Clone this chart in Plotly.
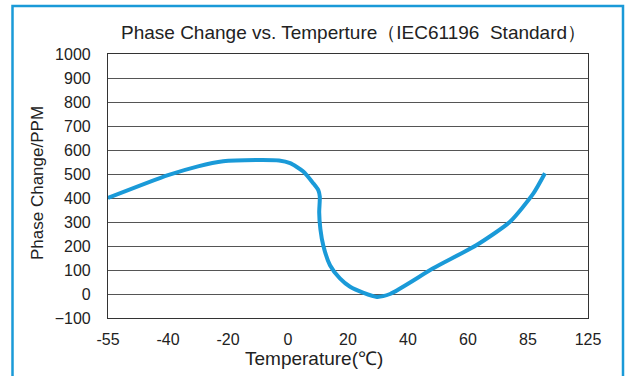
import numpy as np
import plotly.graph_objects as go

tick_labels = ["-55", "-40", "-20", "0", "20", "40", "60", "85", "125"]
tick_temps = [-55, -40, -20, 0, 20, 40, 60, 85, 125]

temps = [-55, -40, -30, -21.6, -10, -3, 0.7, 5.1, 8.5, 10.1, 10.6, 10.4, 10.8, 11.8, 14, 17.3, 20.7, 25, 29.6, 34, 48.4, 63.6, 77.5, 88.6, 96.3]
phase = [400, 495, 532, 553, 558, 556, 545, 510, 460, 433, 405, 340, 270, 200, 120, 65, 30, 6, -12, 0, 107, 204, 301, 419, 503]

# map temperatures onto the evenly spaced category axis
xpos = np.interp(temps, tick_temps, list(range(len(tick_temps))))

FONT = "Liberation Sans Narrow, Liberation Sans, Arial, sans-serif"
BLUE = "#1a9ad8"

fig = go.Figure()
fig.add_trace(go.Scatter(
    x=xpos, y=phase, mode="lines",
    line=dict(color=BLUE, width=4, shape="spline", smoothing=0.6),
    hoverinfo="skip", showlegend=False,
))

L, R, T, B = 108, 631 - 588, 54, 376 - 318
W, H = 631 - L - R, 376 - T - B

def px_x(p):
    return (p - L) / W

def px_y(p):
    return (376 - B - p) / H

fig.update_layout(
    width=631, height=376,
    margin=dict(l=L, r=R, t=T, b=B),
    paper_bgcolor="white", plot_bgcolor="white",
    font=dict(family=FONT, size=16, color="#222"),
    xaxis=dict(
        range=[0, 8], tickmode="array", tickvals=list(range(9)), ticktext=tick_labels,
        showgrid=False, zeroline=False, showline=True, linecolor="#333", linewidth=1.2,
        mirror=True, ticks="", ticklabelstandoff=7, tickfont=dict(size=16, color="#222"),
    ),
    yaxis=dict(
        range=[-100, 1000], tickmode="array", tickvals=list(range(-100, 1001, 100)),
        showgrid=True, gridcolor="#555", gridwidth=1.2, zeroline=False,
        showline=True, linecolor="#333", linewidth=1.2, mirror=True, ticks="",
        ticklabelstandoff=13, tickfont=dict(size=16, color="#222"),
    ),
    annotations=[
        dict(text="Phase Change vs. Temperture（IEC61196  Standard）", x=px_x(353), y=px_y(33),
             xanchor="center", yanchor="middle",
             xref="paper", yref="paper", showarrow=False, font=dict(size=19, color="#222", family=FONT)),
        dict(text="Temperature(℃)", x=px_x(314), y=px_y(358),
             xanchor="center", yanchor="middle",
             xref="paper", yref="paper", showarrow=False, font=dict(size=19, color="#222", family=FONT)),
        dict(text="Phase Change/PPM", x=px_x(37), y=px_y(183), textangle=-90,
             xanchor="center", yanchor="middle",
             xref="paper", yref="paper", showarrow=False, font=dict(size=17, color="#222", family=FONT)),
    ],
    shapes=[
        dict(type="rect", xref="paper", yref="paper",
             x0=px_x(12.5), x1=px_x(623), y0=px_y(395), y1=px_y(6),
             line=dict(color=BLUE, width=2.5), layer="above"),
    ],
)

fig.write_html("out.html")
